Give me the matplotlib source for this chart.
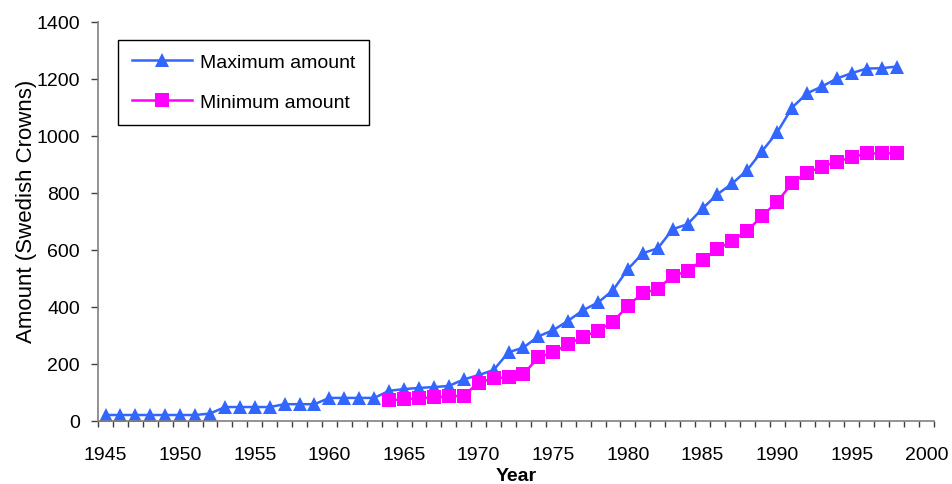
import numpy as np
import matplotlib.pyplot as plt
from matplotlib.ticker import MultipleLocator

plt.rcParams['font.family'] = ['Liberation Sans', 'DejaVu Sans']

# data
years_max = list(range(1945, 1999))
max_amount = [20, 20, 20, 20, 20, 20, 20, 25,
              48, 48, 48, 48, 58, 58, 58,
              80, 80, 80, 80,
              105, 111, 115, 118, 122, 145, 160, 178, 240, 257,
              296, 318, 351, 388, 415, 458, 532, 588, 605, 672,
              690, 745, 795, 833, 880, 947, 1012, 1099, 1149, 1173,
              1201, 1220, 1236, 1237, 1243]

years_min = list(range(1964, 1999))
min_amount = [72, 75, 79, 82, 85, 88, 134, 149, 152, 164,
              222, 240, 269, 295, 316, 347, 404, 448, 462, 509,
              524, 565, 602, 632, 667, 719, 768, 834, 871, 891,
              909, 924, 938, 938, 939]

year_ticks = list(range(1945, 2001, 5))
amount_ticks = list(range(0, 1401, 200))

fig = plt.figure(figsize=(9.52, 4.85), dpi=100)
ax = fig.add_axes([0.103, 0.1305, 0.878, 0.8225])

ax.plot(years_max, max_amount, color='#3366FF', lw=1.8, marker='^', ms=9.5,
        markeredgewidth=0, label='Maximum amount')
ax.plot(years_min, min_amount, color='#FF00FF', lw=1.8, marker='s', ms=9.5,
        markeredgewidth=0, label='Minimum amount')

ax.set_xlim(1944.5, 2000.5)
ax.set_ylim(0, 1400)
ax.set_xticks(year_ticks)
ax.xaxis.set_minor_locator(MultipleLocator(1, offset=0.5))
ax.set_yticks(amount_ticks)

for side in ('top', 'right'):
    ax.spines[side].set_visible(False)
for side in ('left', 'bottom'):
    ax.spines[side].set_color('#808080')
    ax.spines[side].set_linewidth(1.2)

ax.tick_params(axis='x', which='major', length=0, pad=18, labelsize=14)
ax.tick_params(axis='x', which='minor', length=4, width=1, color='#404040', direction='out')
ax.tick_params(axis='y', length=5, width=1, color='#404040', pad=8, labelsize=14)

ax.set_xlabel('Year', fontsize=14, fontweight='bold')
ax.xaxis.set_label_coords(0.5, -0.116)
ax.set_ylabel('Amount (Swedish Crowns)', fontsize=16)
ax.yaxis.set_label_coords(-0.073, 0.528)

leg = ax.legend(loc='upper left', bbox_to_anchor=(0.024, 0.955), fontsize=14,
                fancybox=False, edgecolor='black', framealpha=1, handlelength=3.1,
                labelspacing=1.15, borderpad=0.7, handletextpad=0.4, borderaxespad=0)
leg.get_frame().set_linewidth(1.0)

fig.savefig('out.png', dpi=100)
